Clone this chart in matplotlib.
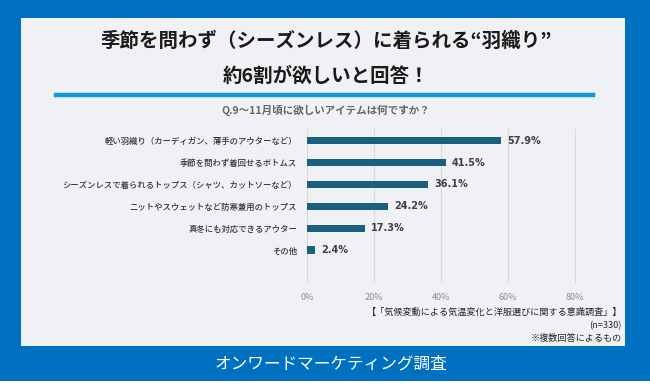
import matplotlib
matplotlib.use("Agg")
import matplotlib.pyplot as plt
from matplotlib.patches import Rectangle
from matplotlib.lines import Line2D

plt.rcParams['font.family'] = ['Noto Sans CJK JP', 'DejaVu Sans']

categories = [
    "軽い羽織り（カーディガン、薄手のアウターなど）",
    "季節を問わず着回せるボトムス",
    "シーズンレスで着られるトップス（シャツ、カットソーなど）",
    "ニットやスウェットなど防寒兼用のトップス",
    "真冬にも対応できるアウター",
    "その他",
]
values = [57.9, 41.5, 36.1, 24.2, 17.3, 2.4]
xticks = [0, 20, 40, 60, 80]
xtick_labels = ["0%", "20%", "40%", "60%", "80%"]

title1 = "季節を問わず（シーズンレス）に着られる“羽織り”"
title2 = "約6割が欲しいと回答！"
question = "Q.9～11月頃に欲しいアイテムは何ですか？"
source_lines = ["【「気候変動による気温変化と洋服選びに関する意識調査」】", "(n=330)", "※複数回答によるもの"]
footer = "オンワードマーケティング調査"

W, H = 650, 390
fig = plt.figure(figsize=(6.5, 3.9), dpi=100)
fig.patch.set_facecolor("#0070C0")

def fx(x):
    return x / W

def fy(y):
    return 1 - y / H

# bottom white strip
fig.patches.append(Rectangle((0, 0), 1, 9 / H, transform=fig.transFigure,
                             facecolor="white", edgecolor="none", zorder=-5))
# panel
fig.patches.append(Rectangle((fx(21), fy(346)), fx(625 - 21), (346 - 18) / H,
                             transform=fig.transFigure, facecolor="#F0F1F5",
                             edgecolor="none", zorder=-5))
# blue underline
fig.lines.append(Line2D([fx(56), fx(593)], [fy(95), fy(95)], transform=fig.transFigure,
                        color="#0E9BD8", linewidth=3.2, zorder=1))

fig.text(fx(326), fy(41), title1, ha="center", va="center", fontsize=14,
         fontweight="bold", color="#1a1a1a")
fig.text(fx(326), fy(76), title2, ha="center", va="center", fontsize=14,
         fontweight="bold", color="#1a1a1a")
fig.text(fx(326), fy(110), question, ha="center", va="center", fontsize=7.6,
         fontweight="bold", color="#666666")

# axes
x0px, x1px = 307, 307 + 85 * 3.35
ytop, ybot = 129, 283
ax = fig.add_axes([fx(x0px), fy(ybot), fx(x1px - x0px), (ybot - ytop) / H])
ax.set_zorder(5)
ax.set_facecolor("none")
ypos = list(range(len(categories)))
ax.barh(ypos, values, height=0.34, color="#1A5E80", zorder=3)
ax.set_xlim(0, 85)
ax.set_ylim(6.5, -0.53)
ax.set_xticks(xticks)
ax.set_xticklabels(xtick_labels, fontsize=6.5, color="#8C8C8C")
ax.set_yticks(ypos)
ax.set_yticklabels(categories, fontsize=6.0, color="#333333", fontweight="medium")
ax.tick_params(axis="both", length=0)
ax.tick_params(axis="x", pad=7)
ax.tick_params(axis="y", pad=7.2)
ax.grid(axis="x", color="#DADADA", linewidth=0.9, zorder=0)
ax.set_axisbelow(True)
for s in ax.spines.values():
    s.set_visible(False)
for yp, v in zip(ypos, values):
    ax.text(v + 1.8, yp, f"{v}%", va="center", ha="left", fontsize=7,
            fontweight="bold", color="#404040", family="DejaVu Sans")

for i, line in enumerate(source_lines):
    fig.text(fx(622), fy(312.5 + 12.8 * i), line, ha="right", va="center",
             fontsize=6.6, color="#262626")

fig.text(fx(331), fy(364), footer, ha="center", va="center", fontsize=12,
         color="white")

fig.savefig("out.png", dpi=100, facecolor=fig.get_facecolor())
